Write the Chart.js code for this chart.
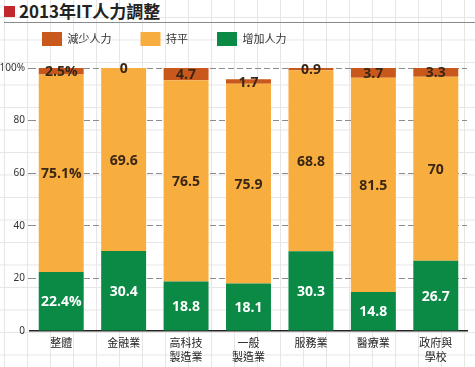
<!DOCTYPE html>
<html>
<head>
<meta charset="utf-8">
<script src="https://cdn.jsdelivr.net/npm/chart.js@4"></script>
<style>
  html, body { margin: 0; padding: 0; }
  body {
    width: 475px; height: 367px; position: relative; overflow: hidden;
    background-color: #fff;
    background-image:
      linear-gradient(to right, #e6e6e6 1px, transparent 1px),
      linear-gradient(to bottom, #e6e6e6 1px, transparent 1px);
    background-size: 23px 22.5px;
    background-position: 4px 17px;
  }
  #title {
    position: absolute; left: 4px; top: 0; right: 0; height: 22px;
    border-bottom: 1px solid #8a8a8a;
    font-family: "Noto Sans CJK TC", "Noto Sans", sans-serif;
    font-weight: bold; font-size: 17px; line-height: 22px; color: #222;
  }
  #title .sq {
    display: inline-block; width: 11px; height: 11px; background: #c1272d;
    vertical-align: 1px; margin-right: 4px;
  }
  #wrap { position: absolute; left: 0; top: 0; width: 475px; height: 367px; }
</style>
</head>
<body>
<div id="title"><span class="sq"></span>2013年IT人力調整</div>
<div id="wrap"><canvas id="chart"></canvas></div>
<script>
  // 類別與數值
  const categories = ['整體', '金融業', ['高科技', '製造業'], ['一般', '製造業'], '服務業', '醫療業', ['政府與', '學校']];
  const decrease = [2.5, 0, 4.7, 1.7, 0.9, 3.7, 3.3];   // 減少人力
  const flat = [75.1, 69.6, 76.5, 75.9, 68.8, 81.5, 70]; // 持平
  const increase = [22.4, 30.4, 18.8, 18.1, 30.3, 14.8, 26.7]; // 增加人力
  const yTicks = [0, 20, 40, 60, 80, 100];

  // first bar gets a % sign on its labels
  function fmt(v, i) {
    return i === 0 ? v + '%' : String(v);
  }

  const barLabels = {
    id: 'barLabels',
    afterDatasetsDraw(chart) {
      const ctx = chart.ctx;
      ctx.save();
      ctx.font = 'bold 14px "Open Sans", sans-serif';
      ctx.textAlign = 'center';
      ctx.textBaseline = 'middle';
      chart.data.datasets.forEach((ds, di) => {
        const meta = chart.getDatasetMeta(di);
        meta.data.forEach((bar, i) => {
          const p = bar.getProps(['x', 'y', 'base'], true);
          ctx.fillStyle = ds.label === '增加人力' ? '#ffffff' : '#3a2614';
          ctx.fillText(fmt(ds.data[i], i), p.x, (p.y + p.base) / 2 + 1);
        });
      });
      ctx.restore();
    }
  };

  // room between legend and plot, and push the legend a bit to the right
  const legendTweak = {
    id: 'legendTweak',
    beforeInit(chart) {
      const fit = chart.legend.fit;
      chart.legend.fit = function () {
        fit.call(this);
        this.height += 12;
      };
    },
    afterLayout(chart) {
      chart.legend.left += 13;
    }
  };

  const ctx = document.getElementById('chart').getContext('2d');
  const chart = new Chart(ctx, {
    type: 'bar',
    data: {
      labels: categories,
      datasets: [
        { label: '增加人力', data: increase, backgroundColor: '#0a8a45' },
        { label: '持平', data: flat, backgroundColor: '#f8ae3f' },
        { label: '減少人力', data: decrease, backgroundColor: '#c9581c' }
      ]
    },
    options: {
      responsive: true,
      maintainAspectRatio: false,
      animation: false,
      datasets: {
        bar: { categoryPercentage: 1, barPercentage: 0.72 }
      },
      layout: { padding: { top: 3, right: 8, left: 0, bottom: 0 } },
      plugins: {
        legend: {
          reverse: true,
          align: 'start',
          labels: {
            boxWidth: 20, boxHeight: 14, padding: 29,
            color: '#333',
            font: { size: 11, family: '"Noto Sans CJK TC", sans-serif' }
          }
        },
        tooltip: { enabled: false }
      },
      scales: {
        x: {
          stacked: true,
          grid: { display: false, drawTicks: false },
          border: { display: true, color: '#222', width: 1.5 },
          ticks: {
            color: '#222', padding: 4,
            font: { size: 11, family: '"Noto Sans CJK TC", sans-serif', lineHeight: 1.35 }
          },
          afterFit(scale) { scale.height = 36; }
        },
        y: {
          stacked: true,
          min: 0, max: 100,
          afterBuildTicks(scale) { scale.ticks = yTicks.map(v => ({ value: v })); },
          grid: {
            color: c => c.tick && c.tick.value === 0 ? 'rgba(0,0,0,0)' : '#8c8c8c',
            lineWidth: 1, tickLength: 2
          },
          border: { display: false, dash: [6, 3] },
          ticks: {
            color: '#333', padding: 3,
            font: { size: 10, family: '"Noto Sans", sans-serif' },
            callback: v => v === 100 ? '100%' : v
          },
          afterFit(scale) { scale.width = 30; }
        }
      }
    },
    plugins: [barLabels, legendTweak]
  });
</script>
</body>
</html>
